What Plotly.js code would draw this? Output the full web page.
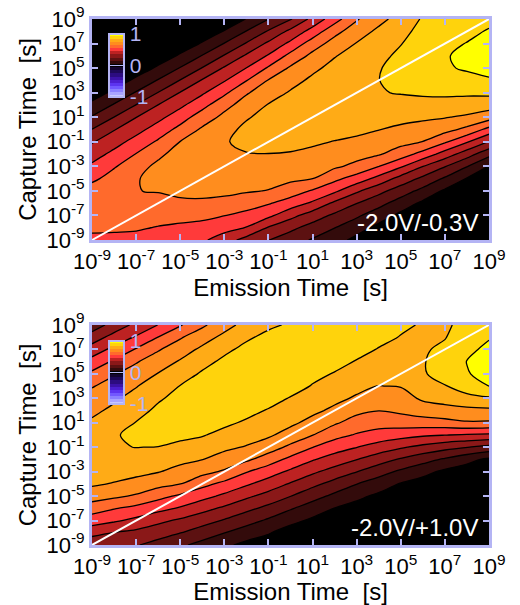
<!DOCTYPE html>
<html>
<head>
<meta charset="utf-8">
<script src="https://cdn.plot.ly/plotly-3.0.1.min.js"></script>
<style>
html,body{margin:0;padding:0;background:#ffffff;}
#chart{width:520px;height:605px;}
</style>
</head>
<body>
<div id="chart"></div>
<script>
// ---- data (log10 of times) ----
const emissionExp = [-9,-8,-7,-6,-5,-4,-3,-2,-1,0,1,2,3,4,5,6,7,8,9];
const captureExp  = [-9,-8,-7,-6,-5,-4,-3,-2,-1,0,1,2,3,4,5,6,7,8,9];
const tickValues = [1e-9,1e-7,1e-5,1e-3,1e-1,1e1,1e3,1e5,1e7,1e9];
const tickLabels = ['10<sup>-9</sup>','10<sup>-7</sup>','10<sup>-5</sup>','10<sup>-3</sup>','10<sup>-1</sup>',
                    '10<sup>1</sup>','10<sup>3</sup>','10<sup>5</sup>','10<sup>7</sup>','10<sup>9</sup>'];
const panelLabels = ['-2.0V/-0.3V','-2.0V/+1.0V'];
const diagonal = [1e-9, 1e9];
const barTicks = [-1, 0, 1];
const barLabels = ['-1', '0', '1'];
const colorLevels = [-1,-0.9,-0.8,-0.7,-0.6,-0.5,-0.4,-0.3,-0.2,-0.1,0,0.1,0.2,0.3,0.4,0.5,0.6,0.7,0.8,0.9,1];
const levelColors = ['#c8c8ff','#aaa4ff','#8c80ff','#7258ff','#5c34f0','#4c1ed0','#3c12a8','#2c0c80','#1e0858','#140630',
                     '#000000','#330b0b','#5c1111','#8a1818','#bd2222','#ff3a3a','#ff6a2c','#ff8d1e','#ffab16','#ffd30c','#ffff00'];

// rows: capture exponent -9 ... 9 ; columns: emission exponent -9 ... 9
const zTop = [
 [0.525,0.525,0.523,0.51,0.492,0.468,0.395,0.314,0.252,0.197,0.14,0.088,0.022,0,0,0,0,0,0],
 [0.57,0.565,0.56,0.545,0.533,0.519,0.49,0.445,0.34,0.274,0.212,0.152,0.092,0.022,0,0,0,0,0],
 [0.625,0.625,0.61,0.581,0.579,0.572,0.552,0.521,0.474,0.383,0.30,0.231,0.165,0.098,0.025,0,0,0,0],
 [0.635,0.645,0.64,0.619,0.626,0.628,0.617,0.596,0.559,0.505,0.433,0.329,0.252,0.182,0.106,0.03,0,0,0],
 [0.59,0.635,0.648,0.655,0.68,0.685,0.675,0.659,0.646,0.6,0.54,0.47,0.367,0.281,0.2,0.12,0.035,0,0],
 [0.531,0.585,0.635,0.715,0.725,0.725,0.715,0.687,0.682,0.669,0.651,0.575,0.506,0.417,0.312,0.228,0.135,0.044,0],
 [0.469,0.542,0.6,0.68,0.735,0.745,0.74,0.716,0.715,0.706,0.688,0.666,0.625,0.552,0.464,0.352,0.255,0.154,0.045],
 [0.406,0.476,0.553,0.621,0.705,0.74,0.748,0.744,0.748,0.743,0.727,0.706,0.683,0.659,0.60,0.514,0.407,0.295,0.181],
 [0.341,0.411,0.485,0.564,0.652,0.71,0.74,0.78,0.79,0.78,0.765,0.746,0.725,0.705,0.681,0.648,0.564,0.46,0.342],
 [0.252,0.344,0.416,0.494,0.58,0.665,0.715,0.775,0.8,0.81,0.805,0.79,0.78,0.752,0.732,0.711,0.681,0.625,0.517],
 [0.159,0.251,0.348,0.422,0.505,0.6,0.675,0.74,0.785,0.815,0.825,0.825,0.825,0.8,0.776,0.767,0.755,0.735,0.693],
 [0.075,0.158,0.252,0.351,0.428,0.517,0.619,0.693,0.755,0.795,0.825,0.84,0.84,0.83,0.816,0.814,0.811,0.805,0.796],
 [0,0.072,0.158,0.253,0.354,0.435,0.53,0.64,0.705,0.76,0.805,0.838,0.843,0.845,0.855,0.865,0.87,0.867,0.871],
 [0,0,0.069,0.157,0.254,0.358,0.442,0.546,0.655,0.715,0.77,0.815,0.838,0.848,0.89,0.905,0.915,0.922,0.943],
 [0,0,0,0.065,0.156,0.255,0.361,0.452,0.563,0.665,0.729,0.78,0.82,0.842,0.895,0.92,0.94,0.96,0.97],
 [0,0,0,0,0.062,0.155,0.257,0.365,0.46,0.581,0.676,0.744,0.79,0.825,0.87,0.92,0.945,0.965,0.985],
 [0,0,0,0,0,0.058,0.154,0.258,0.37,0.473,0.6,0.689,0.755,0.80,0.846,0.905,0.935,0.952,0.975],
 [0,0,0,0,0,0,0.054,0.153,0.259,0.375,0.488,0.619,0.703,0.77,0.817,0.885,0.915,0.935,0.955],
 [0,0,0,0,0,0,0,0.052,0.148,0.24,0.38,0.506,0.64,0.72,0.788,0.86,0.9,0.92,0.935]
];
const zBottom = [
 [0.265,0.289,0.257,0.214,0.167,0.119,0.07,0.023,0,0,0,0,0,0,0,0,0,0,0],
 [0.3875,0.345,0.323,0.291,0.252,0.202,0.152,0.102,0.058,0,0,0,0,0,0,0,0,0,0],
 [0.495,0.464,0.425,0.3735,0.333,0.289,0.241,0.186,0.135,0.081,0.03,0,0,0,0,0,0,0,0],
 [0.6,0.556,0.523,0.482,0.439,0.382,0.332,0.277,0.223,0.159,0.104,0.048,0.015,0,0,0,0,0,0],
 [0.693,0.669,0.6375,0.581,0.532,0.482,0.43,0.369,0.314,0.252,0.186,0.127,0.073,0.03,0,0,0,0,0],
 [0.765,0.743,0.719,0.683,0.652,0.581,0.523,0.464,0.405,0.341,0.277,0.214,0.152,0.10,0.043,0.01,0,0,0],
 [0.81,0.795,0.774,0.755,0.717,0.681,0.6375,0.556,0.495,0.432,0.368,0.31,0.252,0.19,0.132,0.08,0.03,0,0],
 [0.835,0.83,0.813,0.801,0.776,0.752,0.71,0.669,0.60,0.523,0.459,0.405,0.352,0.294,0.239,0.1875,0.1375,0.081,0.03],
 [0.83,0.845,0.851,0.848,0.829,0.803,0.77,0.743,0.698,0.628,0.552,0.495,0.452,0.406,0.3625,0.321,0.283,0.252,0.217],
 [0.81,0.84,0.875,0.885,0.87,0.857,0.82,0.791,0.764,0.712,0.652,0.583,0.541,0.51,0.4875,0.465,0.452,0.441,0.43],
 [0.765,0.81,0.853,0.89,0.895,0.89,0.87,0.836,0.803,0.769,0.721,0.663,0.61,0.589,0.598,0.606,0.617,0.639,0.636],
 [0.729,0.77,0.816,0.87,0.895,0.905,0.905,0.88,0.842,0.806,0.771,0.73,0.675,0.652,0.669,0.698,0.717,0.723,0.728],
 [0.6875,0.736,0.781,0.8375,0.88,0.905,0.918,0.91,0.89,0.843,0.807,0.774,0.7375,0.70,0.71,0.765,0.785,0.818,0.8375],
 [0.643,0.691,0.745,0.796,0.853,0.89,0.915,0.925,0.92,0.895,0.843,0.809,0.777,0.748,0.755,0.815,0.844,0.9,0.952],
 [0.571,0.642,0.695,0.754,0.807,0.862,0.895,0.922,0.93,0.925,0.88,0.843,0.81,0.78,0.795,0.84,0.89,0.945,0.975],
 [0.486,0.565,0.642,0.70,0.76,0.82,0.87,0.905,0.925,0.932,0.91,0.885,0.843,0.812,0.815,0.842,0.9,0.952,0.985],
 [0.395,0.477,0.558,0.641,0.703,0.77,0.829,0.875,0.905,0.92,0.925,0.915,0.885,0.844,0.83,0.838,0.87,0.935,0.965],
 [0.297,0.386,0.46,0.552,0.64,0.707,0.776,0.835,0.875,0.895,0.925,0.93,0.91,0.88,0.845,0.835,0.845,0.91,0.945],
 [0.192,0.29,0.375,0.452,0.54,0.632,0.7115,0.785,0.832,0.862,0.91,0.93,0.92,0.9,0.87,0.84,0.835,0.88,0.92]
];

// ---- styling ----
const FONT = 'Liberation Sans, Arial, Helvetica, sans-serif';
const LAV = '#b4b4f4';
const emission = emissionExp.map(e => Math.pow(10, e));
const capture = captureExp.map(e => Math.pow(10, e));
const colorscale = colorLevels.map((v, i) => [(v + 1) / 2, levelColors[i]]);
const levels = {start: -0.95, end: 0.95, size: 0.1};

function fillTrace(z, xa, ya, cbY) {
  return {
    type: 'contour', x: emission, y: capture, z: z, xaxis: xa, yaxis: ya,
    colorscale: colorscale, hoverinfo: 'skip',
    autocontour: false,
    contours: Object.assign({coloring: 'fill', showlines: false}, levels),
    line: {width: 0, smoothing: 1},
    colorbar: {
      x: 0.043, xanchor: 'left', y: cbY, yanchor: 'top',
      len: 63, lenmode: 'pixels', thickness: 15, thicknessmode: 'pixels',
      xpad: 0, ypad: 0, outlinewidth: 2, outlinecolor: LAV, borderwidth: 0,
      tickmode: 'array', tickvals: barTicks, ticktext: barLabels,
      ticks: 'inside', ticklen: 15, tickwidth: 1.5, tickcolor: LAV,
      tickfont: {family: FONT, size: 21, color: LAV}
    }
  };
}
function lineTrace(z, xa, ya) {
  return {
    type: 'contour', x: emission, y: capture, z: z, xaxis: xa, yaxis: ya,
    hoverinfo: 'skip', showscale: false, autocontour: false,
    contours: Object.assign({coloring: 'none', showlines: true}, levels),
    line: {color: '#000000', width: 1.3, smoothing: 1}
  };
}
function diagTrace(xa, ya) {
  return {type: 'scatter', mode: 'lines', x: diagonal, y: diagonal, xaxis: xa, yaxis: ya,
          line: {color: '#ffffff', width: 2}, hoverinfo: 'skip', showlegend: false};
}

function axisX(anchor) {
  return {
    type: 'log', range: [-9, 9], anchor: anchor, domain: [0, 1],
    tickmode: 'array', tickvals: tickValues, ticktext: tickLabels,
    ticks: 'inside', ticklen: 6, tickwidth: 2, tickcolor: LAV,
    showline: true, linecolor: LAV, linewidth: 3, mirror: 'ticks',
    showgrid: false, zeroline: false,
    tickfont: {family: FONT, size: 22, color: '#000'},
    title: {text: 'Emission Time\u00a0 [s]', font: {family: FONT, size: 24, color: '#000'}, standoff: 6}
  };
}
function axisY(anchor, domain) {
  return {
    type: 'log', range: [-9, 9], anchor: anchor, domain: domain,
    tickmode: 'array', tickvals: tickValues, ticktext: tickLabels,
    ticks: 'inside', ticklen: 6, tickwidth: 2, tickcolor: LAV,
    showline: true, linecolor: LAV, linewidth: 3, mirror: 'ticks',
    showgrid: false, zeroline: false,
    tickfont: {family: FONT, size: 22, color: '#000'},
    title: {text: 'Capture Time\u00a0 [s]', font: {family: FONT, size: 24, color: '#000'}, standoff: 4}
  };
}

const data = [
  fillTrace(zTop, 'x', 'y', 0.9715), lineTrace(zTop, 'x', 'y'), diagTrace('x', 'y'),
  fillTrace(zBottom, 'x2', 'y2', 0.3878), lineTrace(zBottom, 'x2', 'y2'), diagTrace('x2', 'y2')
];

const layout = {
  width: 520, height: 605,
  margin: {l: 92, r: 31, t: 19, b: 60},
  paper_bgcolor: '#ffffff', plot_bgcolor: '#000000',
  showlegend: false,
  font: {family: FONT, color: '#000'},
  xaxis: axisX('y'), yaxis: axisY('x', [0.5798, 1]),
  xaxis2: axisX('y2'), yaxis2: axisY('x2', [0, 0.4183]),
  annotations: [
    {xref: 'x domain', yref: 'y domain', x: 1, y: 0, xanchor: 'right', yanchor: 'bottom',
     xshift: -9, yshift: 2, text: panelLabels[0], showarrow: false,
     font: {family: FONT, size: 24, color: '#ffffff'}},
    {xref: 'x2 domain', yref: 'y2 domain', x: 1, y: 0, xanchor: 'right', yanchor: 'bottom',
     xshift: -9, yshift: 2, text: panelLabels[1], showarrow: false,
     font: {family: FONT, size: 24, color: '#ffffff'}}
  ]
};

Plotly.newPlot('chart', data, layout, {displayModeBar: false, staticPlot: true});
</script>
</body>
</html>
